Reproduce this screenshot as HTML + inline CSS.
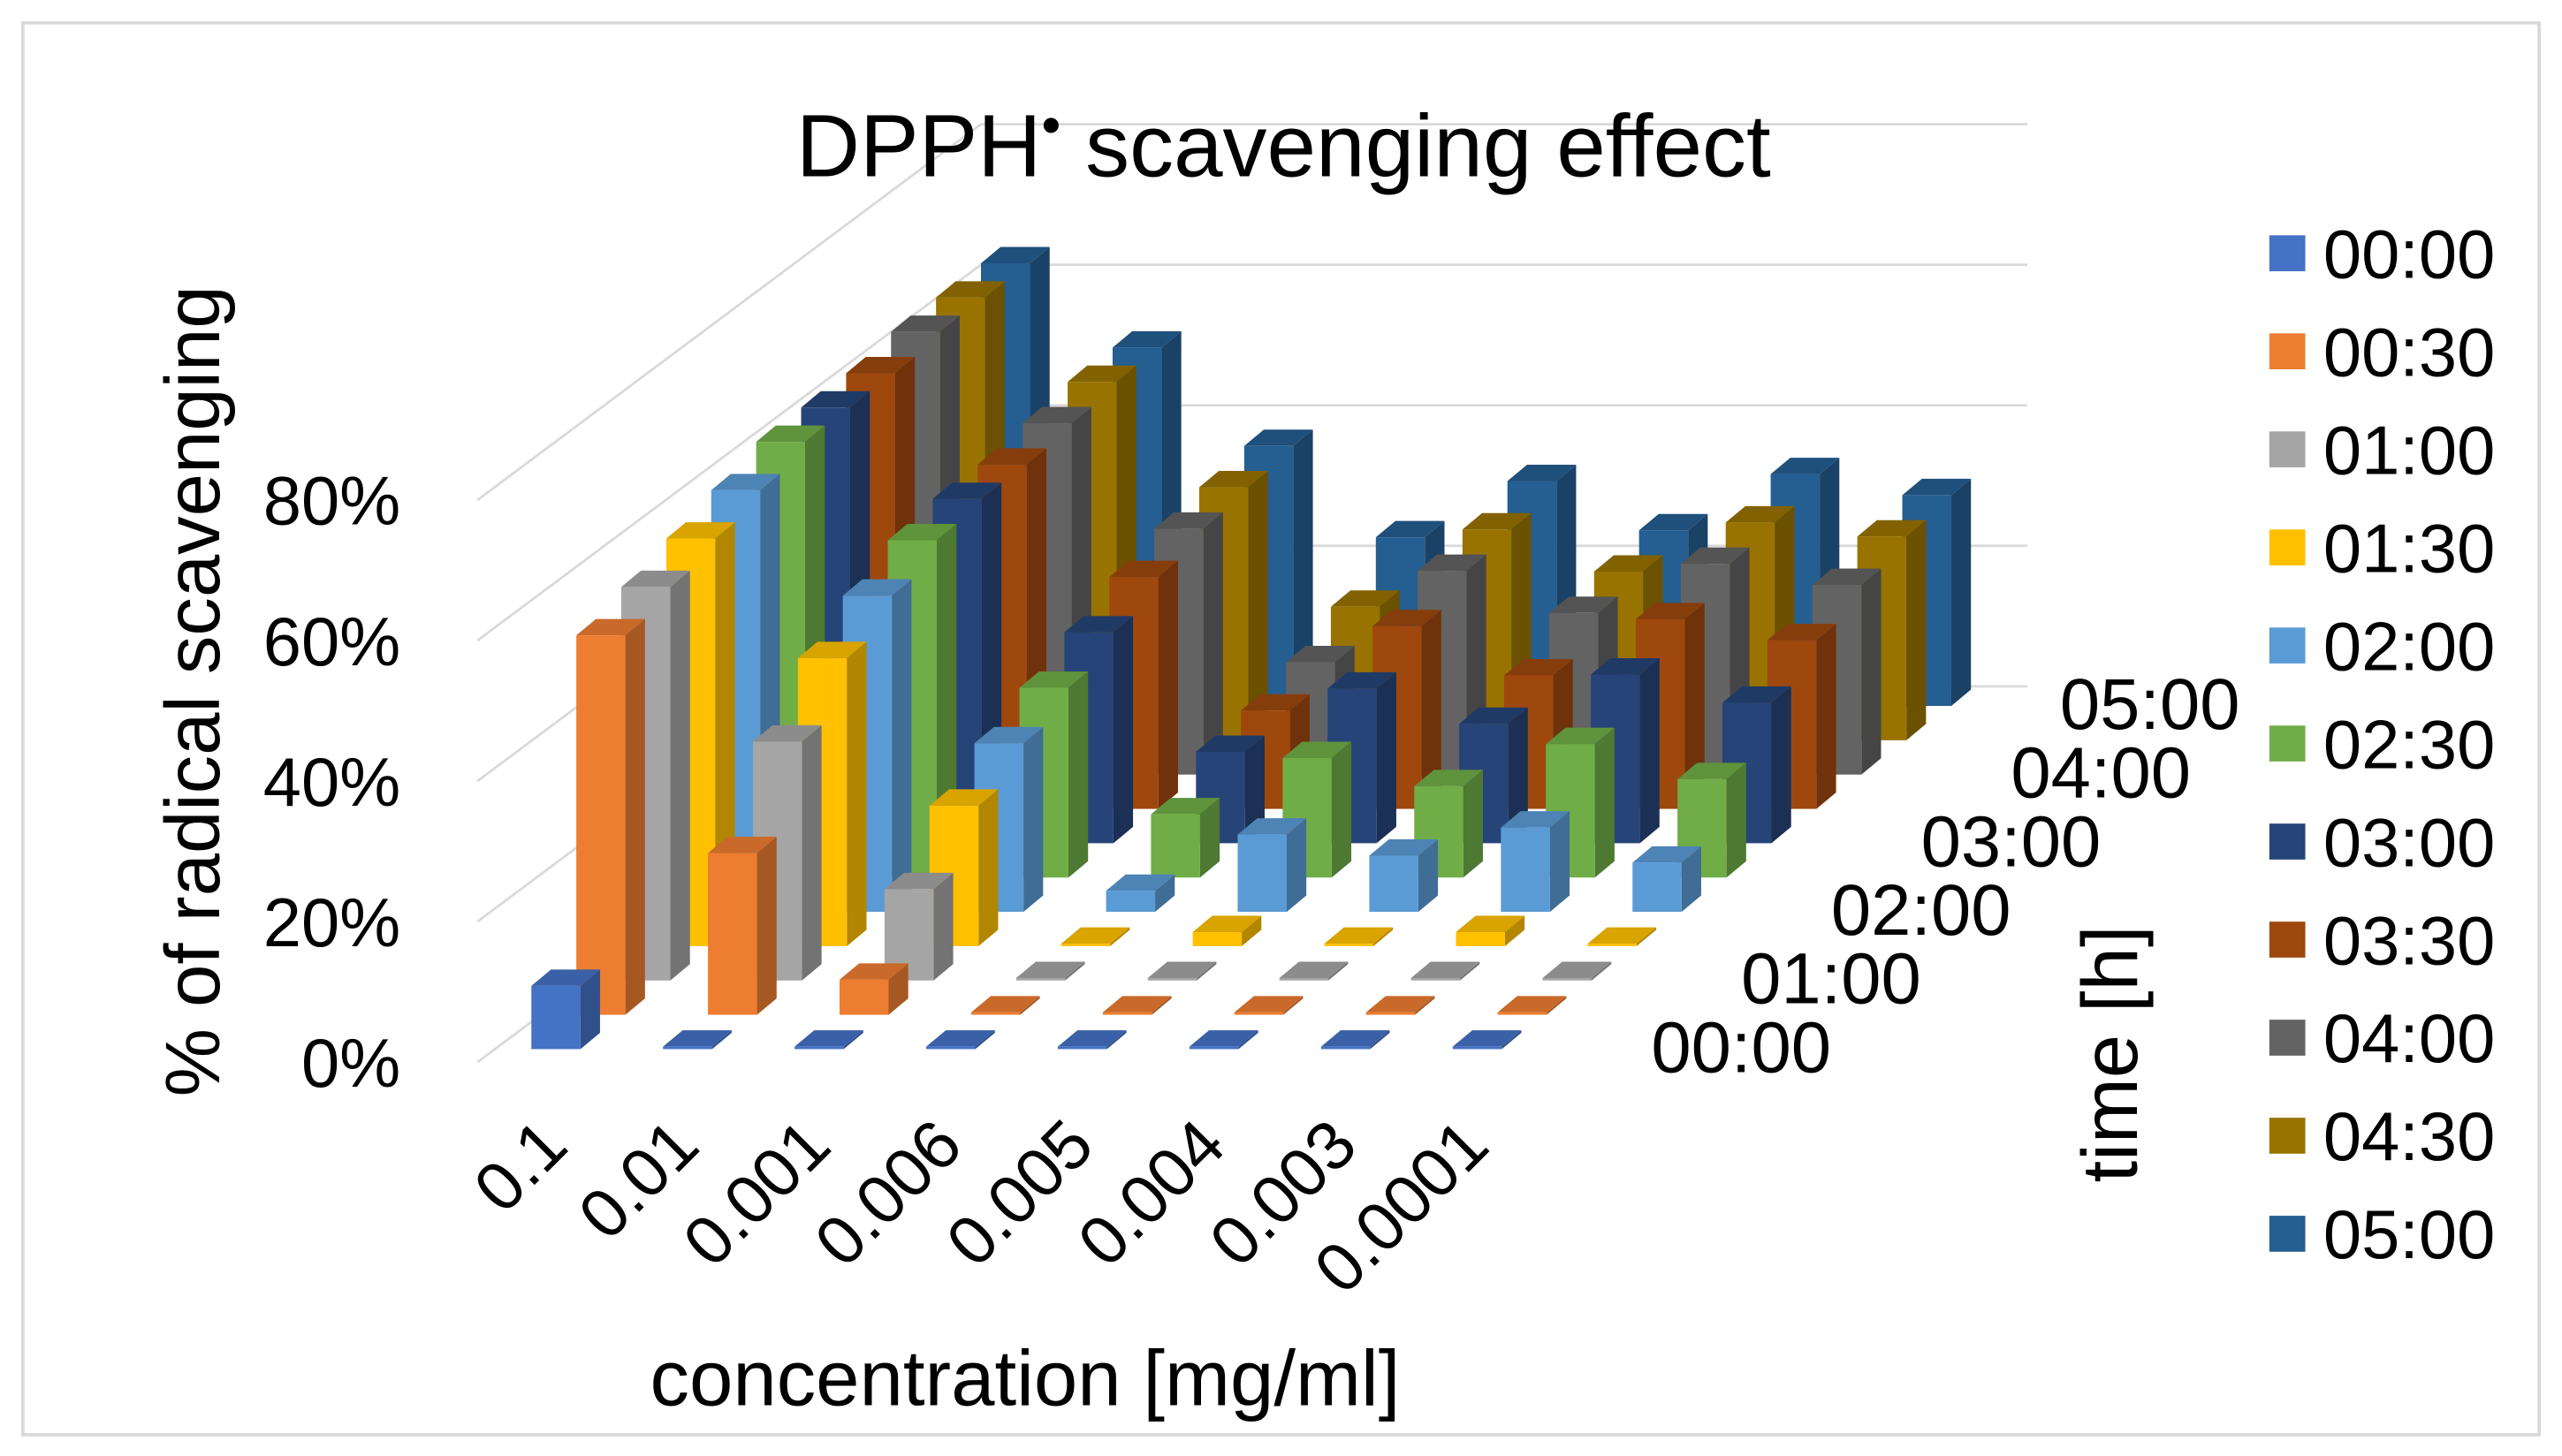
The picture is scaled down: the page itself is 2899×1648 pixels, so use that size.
<!DOCTYPE html>
<html><head><meta charset="utf-8"><style>
html,body{margin:0;padding:0;background:#fff;}
svg{display:block;}
text{font-family:"Liberation Sans",sans-serif;fill:#000;}
</style></head><body>
<svg id="chart" width="2899" height="1648" viewBox="0 0 1567 891" preserveAspectRatio="none" xmlns="http://www.w3.org/2000/svg">
<rect x="14" y="14" width="1539" height="864" fill="#fff" stroke="#d9d9d9" stroke-width="2"/>
<g id="grid"></g>
<text x="785" y="108" font-size="54" text-anchor="middle">DPPH<tspan font-size="34" dy="-20">•</tspan><tspan dy="20"> scavenging effect</tspan></text>
<g id="bars"></g>
<g id="ylabels"></g>
<g id="xlabels"></g>
<g id="zlabels"></g>
<text transform="translate(134,423) rotate(-90)" font-size="47" text-anchor="middle">% of radical scavenging</text>
<text x="627" y="860" font-size="48" text-anchor="middle">concentration [mg/ml]</text>
<text transform="translate(1307,645) rotate(-90)" font-size="48" text-anchor="middle">time [h]</text>
<g id="legend"></g>
</svg>
<script>
const categories = ["0.1","0.01","0.001","0.006","0.005","0.004","0.003","0.0001"];
const seriesNames = ["00:00","00:30","01:00","01:30","02:00","02:30","03:00","03:30","04:00","04:30","05:00"];
const seriesColors = ["#4472C4","#ED7D31","#A5A5A5","#FFC000","#5B9BD5","#70AD47","#264478","#9E480E","#636363","#997300","#255E91"];
const s0000 = [9,0,0,0,0,0,0,0];
const s0030 = [54,23,5,0,0,0,0,0];
const s0100 = [56,34,13,0,0,0,0,0];
const s0130 = [58,41,20,0,2,0,2,0];
const s0200 = [60,45,24,3,11,8,12,7];
const s0230 = [62,48,27,9,17,13,19,14];
const s0300 = [62,49,30,13,22,17,24,20];
const s0330 = [62,49,33,14,26,19,27,24];
const s0400 = [63,50,35,16,29,23,30,27];
const s0430 = [63,51,36,19,30,24,31,29];
const s0500 = [63,51,37,24,32,25,33,30];
const yTicks = [0,20,40,60,80];
const yTickLabels = ["0%","20%","40%","60%","80%"];
const zTickLabels = ["00:00","01:00","02:00","03:00","04:00","05:00"];
const seriesValues = [s0000,s0030,s0100,s0130,s0200,s0230,s0300,s0330,s0400,s0430,s0500];

const NS="http://www.w3.org/2000/svg";
function mk(tag,attrs,parent){const e=document.createElementNS(NS,tag);for(const k in attrs)e.setAttribute(k,attrs[k]);parent.appendChild(e);return e;}
const pxPerPct=4.3;
function colX(c){return 325+80.5*c;}
function rowDX(r){return 27.5*r;}
function rowDY(r){return -21*r;}
function baseY(r){return 642+rowDY(r);}
function valY(v){return v*pxPerPct;}
function shade(hex,f){const n=parseInt(hex.slice(1),16);let r=n>>16,g=(n>>8)&255,b=n&255;r=Math.round(r*f);g=Math.round(g*f);b=Math.round(b*f);return `rgb(${Math.min(255,r)},${Math.min(255,g)},${Math.min(255,b)})`;}

const grid=document.getElementById('grid');
const nRows=seriesNames.length;
yTicks.forEach((t,i)=>{
  const fy=650-valY(t), bx=600, by=fy-230;
  const l1=mk('line',{x1:292,y1:fy,x2:bx,y2:by,stroke:'#d9d9d9','stroke-width':1.5},grid);
  
  
  const l2=mk('line',{x1:bx,y1:by,x2:1240,y2:by,stroke:'#d9d9d9','stroke-width':1.5},grid);
  
  
});

const bars=document.getElementById('bars');
const w=30, ddx=12, ddy=-10;
for(let r=nRows-1;r>=0;r--){
  for(let c=categories.length-1;c>=0;c--){
    const v=seriesValues[r][c];
    const x=colX(c)+rowDX(r), yb=baseY(r), h=Math.max(valY(v),1.5), yt=yb-h;
    const col=seriesColors[r];
    const g=mk('g',{},bars);
    
    
    mk('polygon',{points:`${x+w},${yt} ${x+w+ddx},${yt+ddy} ${x+w+ddx},${yb+ddy} ${x+w},${yb}`,fill:shade(col,0.7)},g);
    mk('polygon',{points:`${x},${yt} ${x+ddx},${yt+ddy} ${x+w+ddx},${yt+ddy} ${x+w},${yt}`,fill:shade(col,0.85)},g);
    mk('rect',{x:x,y:yt,width:w,height:h,fill:col},g);
  }
}

const yl=document.getElementById('ylabels');
yTicks.forEach((t,i)=>{
  const e=mk('text',{x:245,y:650-valY(t)+15,'font-size':42,'text-anchor':'end'},yl);
  
  
  e.textContent=yTickLabels[i];
});
const xl=document.getElementById('xlabels');
categories.forEach((c,i)=>{
  const ex=colX(i)+24, ey=703;
  const e=mk('text',{transform:`translate(${ex},${ey}) rotate(-45)`,'font-size':42,'text-anchor':'end'},xl);
  
  
  e.textContent=c;
});
const zl=document.getElementById('zlabels');
zTickLabels.forEach((t,i)=>{
  const r=i*2;
  const endX=Math.min(1120+rowDX(r),1370);
  const e=mk('text',{x:endX,y:656+rowDY(r),'font-size':44,'text-anchor':'end'},zl);
  
  
  e.textContent=t;
});
const lg=document.getElementById('legend');
seriesNames.forEach((n,i)=>{
  const y=155+60*i;
  const g=mk('g',{},lg);
  
  
  mk('rect',{x:1388,y:y-11,width:22,height:22,fill:seriesColors[i]},g);
  const t=mk('text',{x:1421,y:y+15,'font-size':42},g);
  t.textContent=n;
});
</script>
</body></html>
